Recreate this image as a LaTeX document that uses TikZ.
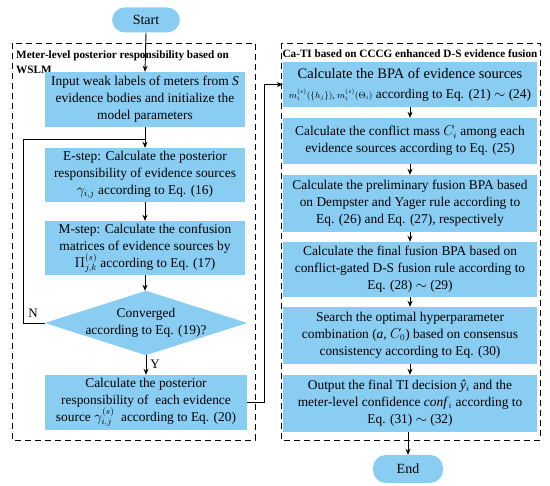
\documentclass[tikz,border=0pt]{standalone}
\usepackage{fontspec}
\setmainfont{Liberation Serif}
\usetikzlibrary{shapes.geometric,arrows.meta,calc}
\definecolor{boxblue}{RGB}{138,205,243}
\tikzset{
  proc/.style={fill=boxblue, draw=none, align=center, inner sep=1pt,
    font=\fontsize{13.4}{17}\selectfont},
  term/.style={fill=boxblue, draw=none, rounded corners=13pt, inner sep=1pt,
    font=\fontsize{14}{16}\selectfont},
  decide/.style={draw=none, align=center, inner sep=0pt,
    font=\fontsize{13.4}{17}\selectfont},
  arr/.style={-{Stealth[length=6pt,width=5pt]}, line width=0.9pt},
  line/.style={line width=0.9pt},
  group/.style={dash pattern=on 6pt off 4pt, line width=0.8pt},
  gtitle/.style={font=\fontsize{11.2}{14.5}\selectfont\bfseries, inner sep=0pt},
  lbl/.style={font=\fontsize{13}{15}\selectfont, inner sep=0pt},
}
\begin{document}
\begin{tikzpicture}[x=1pt,y=1pt]
\useasboundingbox (0,0) rectangle (550,486);
% group frames
\draw[group] (12,443) rectangle (255,46);
\draw[group] (281,443) rectangle (540,46);
\node[gtitle, anchor=north west, align=left] (lt) at (16,435)
  {Meter-level posterior responsibility based on\\WSLM};
\node[gtitle] (rt) at (410,432) {Ca-TI based on CCCG enhanced D-S evidence fusion};
% left column
\node[term, minimum width=68pt, minimum height=25pt] (start) at (146,466) {Start};
\node[proc, minimum width=200pt, minimum height=55pt] (l1) at (145,386.5)
  {Input weak labels of meters from \textit{S}\\evidence bodies and initialize the\\model parameters};
\node[proc, minimum width=200pt, minimum height=54pt] (le) at (145,311)
  {E-step: Calculate the posterior\\responsibility of evidence sources\\$\gamma_{i,j}$ according to Eq. (16)};
\node[proc, minimum width=200pt, minimum height=54pt] (lm) at (145,238)
  {M-step: Calculate the confusion\\matrices of evidence sources by\\$\Pi^{(s)}_{j,k}$ according to Eq. (17)};
\node[decide, minimum width=202pt, minimum height=64pt] (ld) at (146,163) {};
\fill[boxblue] (ld.west) -- (ld.north) -- (ld.east) -- (ld.south) -- cycle;
\node[decide] (ldtext) at (ld.center) {Converged\\according to Eq. (19)?};
\node[proc, minimum width=202pt, minimum height=55pt] (lf) at (146,83.5)
  {Calculate the posterior\\responsibility of \ each evidence\\source $\gamma^{(s)}_{i,j}$\ \ according to Eq. (20)};
% right column
\node[proc, minimum width=254pt, minimum height=45pt] (r1) at (410,401.5)
  {{\fontsize{14.5}{17}\selectfont Calculate the BPA of evidence sources}\\[3pt]{\fontsize{9}{11}\selectfont$m_i^{(s)}(\{h_j\})$, $m_i^{(s)}(\Theta_i)$} according to Eq. (21) $\sim$ (24)};
\node[proc, minimum width=254pt, minimum height=46pt] (r2) at (410,345)
  {Calculate the conflict mass $C_i$ among each\\evidence sources according to Eq. (25)};
\node[proc, minimum width=254pt, minimum height=57pt] (r3) at (410,282.5)
  {Calculate the preliminary fusion BPA based\\on Dempster and Yager rule according to\\Eq. (26) and Eq. (27), respectively};
\node[proc, minimum width=254pt, minimum height=55pt] (r4) at (410,216.5)
  {Calculate the final fusion BPA based on\\conflict-gated D-S fusion rule according to\\Eq. (28) $\sim$ (29)};
\node[proc, minimum width=254pt, minimum height=57pt] (r5) at (410,150.5)
  {Search the optimal hyperparameter\\combination (\textit{a}, $C_0$) based on consensus\\consistency according to Eq. (30)};
\node[proc, minimum width=254pt, minimum height=57pt] (r6) at (410,82.5)
  {Output the final TI decision \textit{ŷ}$_i$ and the\\meter-level confidence \textit{conf}$_i$ according to\\Eq. (31) $\sim$ (32)};
\node[term, minimum width=70pt, minimum height=28pt] (end) at (408,17) {End};
% connectors
\draw[arr] (start.south) -- (l1.north);
\draw[arr] (l1.south) -- (le.north);
\draw[arr] (le.south) -- (lm.north);
\draw[arr] (lm.south) -- (lm.south |- ld.north);
\draw[arr] (ld.south) -- (ld.south |- lf.north) node[lbl, pos=0.45, right=4pt] {Y};
\coordinate (loopx) at (23,0);
\coordinate (joiny) at (0,347);
\draw[line] (ld.west) -- (loopx |- ld.west) -- (loopx |- joiny) -- (le.north |- joiny);
\node[lbl, anchor=south] (nlab) at (33,168) {N};
\coordinate (busx) at (264,0);
\draw[arr] (lf.east) -- (busx |- lf.east) -- (busx |- r1.west) -- (r1.west);
\draw[arr] (r1.south) -- (r2.north);
\draw[arr] (r2.south) -- (r3.north);
\draw[arr] (r3.south) -- (r4.north);
\draw[arr] (r4.south) -- (r5.north);
\draw[arr] (r5.south) -- (r6.north);
\draw[arr] (r6.south -| end.north) -- (end.north);
\end{tikzpicture}
\end{document}
